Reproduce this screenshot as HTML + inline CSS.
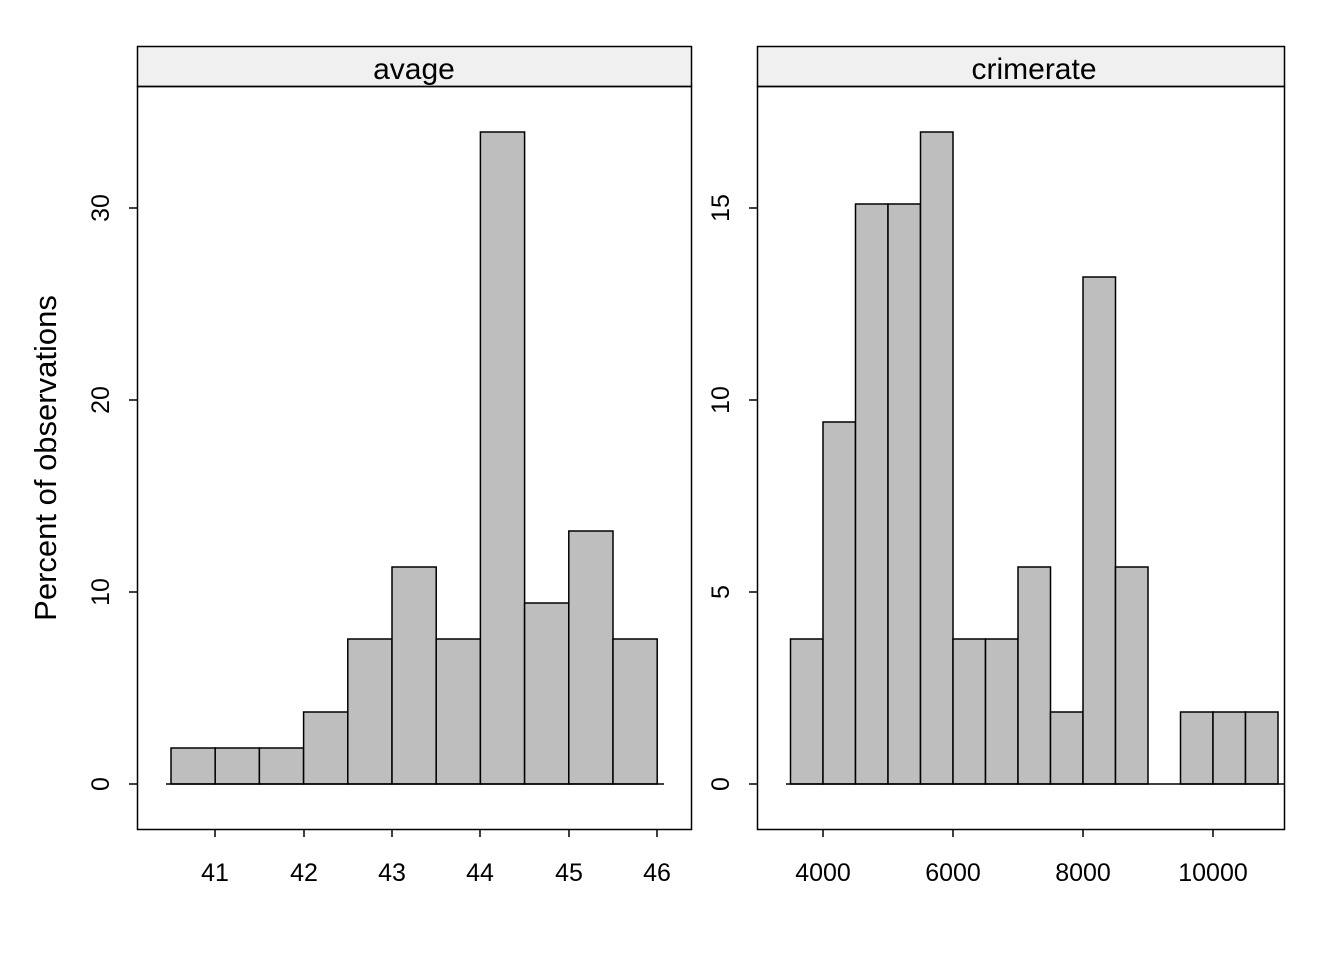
<!DOCTYPE html>
<html><head><style>body{margin:0;background:#fff}</style></head><body>
<svg width="1344" height="960" xmlns="http://www.w3.org/2000/svg" font-family="Liberation Sans, Arial, sans-serif">
<rect width="1344" height="960" fill="#fff"/>
<!-- Left panel -->
<rect x="137.5" y="46.5" width="554" height="40" fill="#f0f0f0" stroke="#000" stroke-width="1.5"/>
<text x="414" y="79" font-size="30" text-anchor="middle">avage</text>
<rect x="137.5" y="86.5" width="554" height="743" fill="none" stroke="#000" stroke-width="1.5"/>
<g fill="#bebebe" stroke="#000" stroke-width="1.5">
<rect x="171" y="748" width="44.2" height="36"/>
<rect x="215.2" y="748" width="44.2" height="36"/>
<rect x="259.4" y="748" width="44.2" height="36"/>
<rect x="303.6" y="712" width="44.2" height="72"/>
<rect x="347.8" y="639" width="44.2" height="145"/>
<rect x="392" y="567" width="44.2" height="217"/>
<rect x="436.2" y="639" width="44.2" height="145"/>
<rect x="480.4" y="132" width="44.2" height="652"/>
<rect x="524.6" y="603" width="44.2" height="181"/>
<rect x="568.8" y="531" width="44.2" height="253"/>
<rect x="613" y="639" width="44.2" height="145"/>
</g>
<line x1="166" y1="784" x2="664" y2="784" stroke="#000" stroke-width="1.5"/>
<g stroke="#000" stroke-width="1.5">
<line x1="215" y1="829" x2="215" y2="837"/><line x1="304" y1="829" x2="304" y2="837"/><line x1="392" y1="829" x2="392" y2="837"/><line x1="480" y1="829" x2="480" y2="837"/><line x1="569" y1="829" x2="569" y2="837"/><line x1="657" y1="829" x2="657" y2="837"/>
<line x1="129" y1="784" x2="137" y2="784"/><line x1="129" y1="592" x2="137" y2="592"/><line x1="129" y1="400" x2="137" y2="400"/><line x1="129" y1="208" x2="137" y2="208"/>
</g>
<g font-size="25" text-anchor="middle">
<text x="215" y="881">41</text><text x="304" y="881">42</text><text x="392" y="881">43</text><text x="480" y="881">44</text><text x="569" y="881">45</text><text x="657" y="881">46</text>
<text transform="translate(109,784) rotate(-90)">0</text>
<text transform="translate(109,592) rotate(-90)">10</text>
<text transform="translate(109,400) rotate(-90)">20</text>
<text transform="translate(109,208) rotate(-90)">30</text>
</g>
<text transform="translate(56,458) rotate(-90)" font-size="31" text-anchor="middle">Percent of observations</text>
<!-- Right panel -->
<rect x="757.5" y="46.5" width="527" height="40" fill="#f0f0f0" stroke="#000" stroke-width="1.5"/>
<text x="1034" y="79" font-size="30" text-anchor="middle">crimerate</text>
<rect x="757.5" y="86.5" width="527" height="743" fill="none" stroke="#000" stroke-width="1.5"/>
<g fill="#bebebe" stroke="#000" stroke-width="1.5">
<rect x="790.5" y="639" width="32.5" height="145"/>
<rect x="823" y="422" width="32.5" height="362"/>
<rect x="855.5" y="204" width="32.5" height="580"/>
<rect x="888" y="204" width="32.5" height="580"/>
<rect x="920.5" y="132" width="32.5" height="652"/>
<rect x="953" y="639" width="32.5" height="145"/>
<rect x="985.5" y="639" width="32.5" height="145"/>
<rect x="1018" y="567" width="32.5" height="217"/>
<rect x="1050.5" y="712" width="32.5" height="72"/>
<rect x="1083" y="277" width="32.5" height="507"/>
<rect x="1115.5" y="567" width="32.5" height="217"/>
<rect x="1180.5" y="712" width="32.5" height="72"/>
<rect x="1213" y="712" width="32.5" height="72"/>
<rect x="1245.5" y="712" width="32.5" height="72"/>
</g>
<line x1="786" y1="784" x2="1284" y2="784" stroke="#000" stroke-width="1.5"/>
<g stroke="#000" stroke-width="1.5">
<line x1="823" y1="829" x2="823" y2="837"/><line x1="953" y1="829" x2="953" y2="837"/><line x1="1083" y1="829" x2="1083" y2="837"/><line x1="1213" y1="829" x2="1213" y2="837"/>
<line x1="749" y1="784" x2="757" y2="784"/><line x1="749" y1="592" x2="757" y2="592"/><line x1="749" y1="400" x2="757" y2="400"/><line x1="749" y1="208" x2="757" y2="208"/>
</g>
<g font-size="25" text-anchor="middle">
<text x="823" y="881">4000</text><text x="953" y="881">6000</text><text x="1083" y="881">8000</text><text x="1213" y="881">10000</text>
<text transform="translate(729,784) rotate(-90)">0</text>
<text transform="translate(729,592) rotate(-90)">5</text>
<text transform="translate(729,400) rotate(-90)">10</text>
<text transform="translate(729,208) rotate(-90)">15</text>
</g>
</svg>
</body></html>
